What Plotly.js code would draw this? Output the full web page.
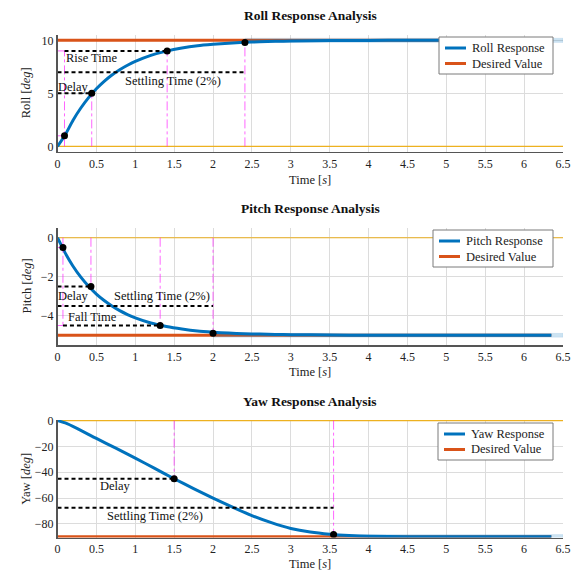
<!DOCTYPE html>
<html>
<head>
<meta charset="utf-8">
<script src="https://cdn.plot.ly/plotly-3.0.1.min.js"></script>
<style>
  html, body { margin: 0; padding: 0; background: #fff; }
  #chart { width: 581px; height: 581px; }
</style>
</head>
<body>
<div id="chart"></div>
<script>
// step response analysis: roll / pitch / yaw
const TIME  = [0, 0.1, 0.2, 0.3, 0.4, 0.5, 0.6, 0.7, 0.8, 0.9, 1.0, 1.2, 1.4, 1.6, 1.8, 2.0, 2.2, 2.4, 2.6, 2.8, 3.0, 3.5, 4.0, 4.5, 5.0, 5.5, 6.0, 6.35];
const ROLL  = [0, 1.10, 2.47, 3.62, 4.60, 5.43, 6.13, 6.73, 7.23, 7.65, 8.01, 8.58, 8.98, 9.27, 9.48, 9.62, 9.73, 9.81, 9.86, 9.90, 9.93, 9.97, 9.99, 10, 10, 10, 10, 10];
const PITCH = [0, -0.79, -1.46, -2.02, -2.49, -2.89, -3.22, -3.50, -3.74, -3.94, -4.11, -4.37, -4.55, -4.68, -4.78, -4.84, -4.89, -4.92, -4.94, -4.96, -4.97, -4.99, -5, -5, -5, -5, -5, -5];
const YAW_T = [0, 0.1, 0.25, 0.5, 0.75, 1.0, 1.25, 1.5, 1.75, 2.0, 2.25, 2.5, 2.75, 3.0, 3.25, 3.5, 3.75, 4.0, 4.5, 5.0, 5.5, 6.0, 6.35];
const YAW   = [0, -1.8, -6, -13.8, -21.3, -29, -37, -45, -52.6, -60, -67, -73.5, -79, -83.5, -86.3, -88, -89, -89.5, -89.9, -90, -90, -90, -90];

const NAMES   = ['Roll', 'Pitch', 'Yaw'];
const TARGET  = [10, -5, -90];
const TOL     = [0.2, 0.1, 1.8];          // 2% band
const SETTLE  = [2.41, 2.0, 3.55];
const Y_RANGE = [[-0.5, 10.5], [-5.5, 0.5], [-90.5, 0.5]];
const Y_TICKS = [[0, 5, 10], [-4, -2, 0], [-80, -60, -40, -20, 0]];
const X_TICKS = [0, 0.5, 1, 1.5, 2, 2.5, 3, 3.5, 4, 4.5, 5, 5.5, 6, 6.5];

// key points (t, value)
const MARK_T = [[0.09, 0.44, 1.41, 2.41], [0.07, 0.43, 1.32, 2.0], [1.5, 3.55]];
const MARK_Y = [[1, 5, 9, 9.8], [-0.5, -2.5, -4.5, -4.9], [-45, -88.2]];

// black dashed analysis lines [t0, t1, level]
const DASH = [
  [[0, 0.44, 5], [0.09, 1.41, 9], [0, 2.41, 7]],
  [[0, 0.43, -2.5], [0.07, 1.32, -4.5], [0, 2.0, -3.5]],
  [[0, 1.5, -45], [0, 3.55, -67.5]],
];
// magenta verticals from 0 to level [t, level]
const VLINE = [
  [[0.09, 9], [0.44, 5], [1.41, 9], [2.41, 9.8]],
  [[0.07, -4.5], [0.43, -2.5], [1.32, -4.5], [2.0, -4.9]],
  [[1.5, -45], [3.55, -88.2]],
];
// magenta horizontals from t=0 [t, level]
const HLINE = [
  [[0.09, 1], [0.09, 9]],
  [[0.07, -0.5], [0.07, -4.5]],
  [],
];
const LABELS = [
  [['Rise Time', 0.44, 8.3], ['Settling Time (2%)', 1.49, 6.2], ['Delay', 0.21, 5.63]],
  [['Delay', 0.21, -2.98], ['Settling Time (2%)', 1.34, -2.98], ['Fall Time', 0.45, -4.08]],
  [['Delay', 0.75, -50.9], ['Settling Time (2%)', 1.26, -73.5]],
];

const SERIF = '"Liberation Serif", "DejaVu Serif", serif';
const W = 581, H = 581;
const PX_X = [57.5, 563];
const PX_Y = [[35, 151.7], [228, 345], [420, 537.5]];
const TITLE_Y = [15, 208, 401];
const XLAB_Y = [180, 372, 564];
const LEG_BOX = [[439, 37], [433, 230], [438, 423]];  // left, top (px)
const LEG_RIGHT = 553, LEG_H = 37;

const BLUE = '#0072BD', ORANGE = '#D95319', YELLOW = '#EDB120';
const MAGENTA = 'rgba(255,0,255,0.6)';

const traces = [];
const annotations = [];
const shapes = [];
const layout = {
  width: W, height: H,
  margin: { l: 0, r: 0, t: 0, b: 0 },
  paper_bgcolor: '#fff', plot_bgcolor: '#fff',
  font: { family: SERIF, size: 12, color: '#222' },
  showlegend: false,
};

const px = v => v / W;
const py = v => 1 - v / H;

function seg(list, fn) {
  const x = [], y = [];
  list.forEach(s => { const p = fn(s); x.push(p[0], p[1], null); y.push(p[2], p[3], null); });
  return { x, y };
}

NAMES.forEach((name, i) => {
  const sfx = i === 0 ? '' : String(i + 1);
  const xa = 'x' + sfx, ya = 'y' + sfx;
  const t = i === 2 ? YAW_T : TIME;
  const y = [ROLL, PITCH, YAW][i];
  const tEnd = t[t.length - 1];

  // initial value line
  traces.push({ x: [0, 6.5], y: [0, 0], xaxis: xa, yaxis: ya, mode: 'lines',
    line: { color: YELLOW, width: 1.2 }, hoverinfo: 'skip' });
  // desired value
  traces.push({ x: [0, tEnd], y: [TARGET[i], TARGET[i]], xaxis: xa, yaxis: ya, mode: 'lines',
    name: 'Desired Value', line: { color: ORANGE, width: 3 } });
  // 2% band
  const lo = TARGET[i] - TOL[i], hi = TARGET[i] + TOL[i];
  traces.push({ x: [SETTLE[i], 6.5, 6.5, SETTLE[i], SETTLE[i]], y: [lo, lo, hi, hi, lo],
    xaxis: xa, yaxis: ya, mode: 'lines', fill: 'toself',
    fillcolor: 'rgba(0,114,189,0.2)', line: { color: 'rgba(0,114,189,0.15)', width: 0.5 },
    hoverinfo: 'skip' });
  // response
  traces.push({ x: t, y: y, xaxis: xa, yaxis: ya, mode: 'lines',
    name: name + ' Response',
    line: { color: BLUE, width: 3, shape: 'spline', smoothing: 0.6 } });
  // magenta guides
  const v = seg(VLINE[i], s => [s[0], s[0], 0, s[1]]);
  const h = seg(HLINE[i], s => [0, s[0], s[1], s[1]]);
  traces.push({ x: v.x.concat(h.x), y: v.y.concat(h.y), xaxis: xa, yaxis: ya, mode: 'lines',
    line: { color: MAGENTA, width: 1, dash: 'dashdot' }, hoverinfo: 'skip' });
  // black dashed
  const d = seg(DASH[i], s => [s[0], s[1], s[2], s[2]]);
  traces.push({ x: d.x, y: d.y, xaxis: xa, yaxis: ya, mode: 'lines',
    line: { color: '#000', width: 2, dash: '4px,3px' }, hoverinfo: 'skip' });
  // key points
  traces.push({ x: MARK_T[i], y: MARK_Y[i], xaxis: xa, yaxis: ya, mode: 'markers',
    marker: { color: '#000', size: 7 } });

  layout['xaxis' + sfx] = {
    domain: [px(PX_X[0]), px(PX_X[1])], anchor: ya, range: [0, 6.5],
    tickvals: X_TICKS, ticktext: X_TICKS.map(String),
    showline: true, linecolor: '#555', linewidth: 1.5,
    showgrid: true, gridcolor: '#dcdcdc', gridwidth: 1, zeroline: false,
    ticks: '', tickfont: { size: 12, family: SERIF, color: '#222' },
  };
  layout['yaxis' + sfx] = {
    domain: [py(PX_Y[i][1]), py(PX_Y[i][0])], anchor: xa, range: Y_RANGE[i], tickvals: Y_TICKS[i],
    showline: true, linecolor: '#555', linewidth: 1.5,
    showgrid: true, gridcolor: '#dcdcdc', gridwidth: 1, zeroline: false,
    ticks: '', tickfont: { size: 12, family: SERIF, color: '#222' },
  };

  const xc = px((PX_X[0] + PX_X[1]) / 2);
  annotations.push({ xref: 'paper', yref: 'paper', x: xc, y: py(TITLE_Y[i]),
    xanchor: 'center', yanchor: 'middle',
    text: '<b>' + name + ' Response Analysis</b>', showarrow: false,
    font: { size: 13.5, family: SERIF, color: '#111' } });
  annotations.push({ xref: 'paper', yref: 'paper', x: xc, y: py(XLAB_Y[i]),
    xanchor: 'center', yanchor: 'middle',
    text: 'Time [<i>s</i>]', showarrow: false, font: { size: 12.5, family: SERIF } });
  annotations.push({ xref: 'paper', yref: 'paper', x: px(26),
    y: py((PX_Y[i][0] + PX_Y[i][1]) / 2), xanchor: 'center', yanchor: 'middle', textangle: -90,
    text: name + ' [<i>deg</i>]', showarrow: false, font: { size: 12.5, family: SERIF } });
  LABELS[i].forEach(l => annotations.push({ xref: xa, yref: ya, x: l[1], y: l[2],
    xanchor: 'center', yanchor: 'middle',
    text: l[0], showarrow: false, font: { size: 12.5, family: SERIF, color: '#111' } }));

  // legend box
  const L = LEG_BOX[i][0], T = LEG_BOX[i][1];
  shapes.push({ type: 'rect', xref: 'paper', yref: 'paper', layer: 'above',
    x0: px(L), x1: px(LEG_RIGHT), y0: py(T + LEG_H), y1: py(T),
    fillcolor: '#fff', line: { color: '#7a7a7a', width: 1 } });
  [[name + ' Response', BLUE, 11], ['Desired Value', ORANGE, 26.5]].forEach(e => {
    shapes.push({ type: 'line', xref: 'paper', yref: 'paper', layer: 'above',
      x0: px(L + 6), x1: px(L + 27), y0: py(T + e[2]), y1: py(T + e[2]),
      line: { color: e[1], width: 3 } });
    annotations.push({ xref: 'paper', yref: 'paper', x: px(L + 31), y: py(T + e[2]),
      xanchor: 'left', yanchor: 'middle', text: e[0], showarrow: false,
      font: { size: 12.5, family: SERIF, color: '#222' } });
  });
});

layout.annotations = annotations;
layout.shapes = shapes;
Plotly.newPlot('chart', traces, layout, { displayModeBar: false, staticPlot: true });
</script>
</body>
</html>
